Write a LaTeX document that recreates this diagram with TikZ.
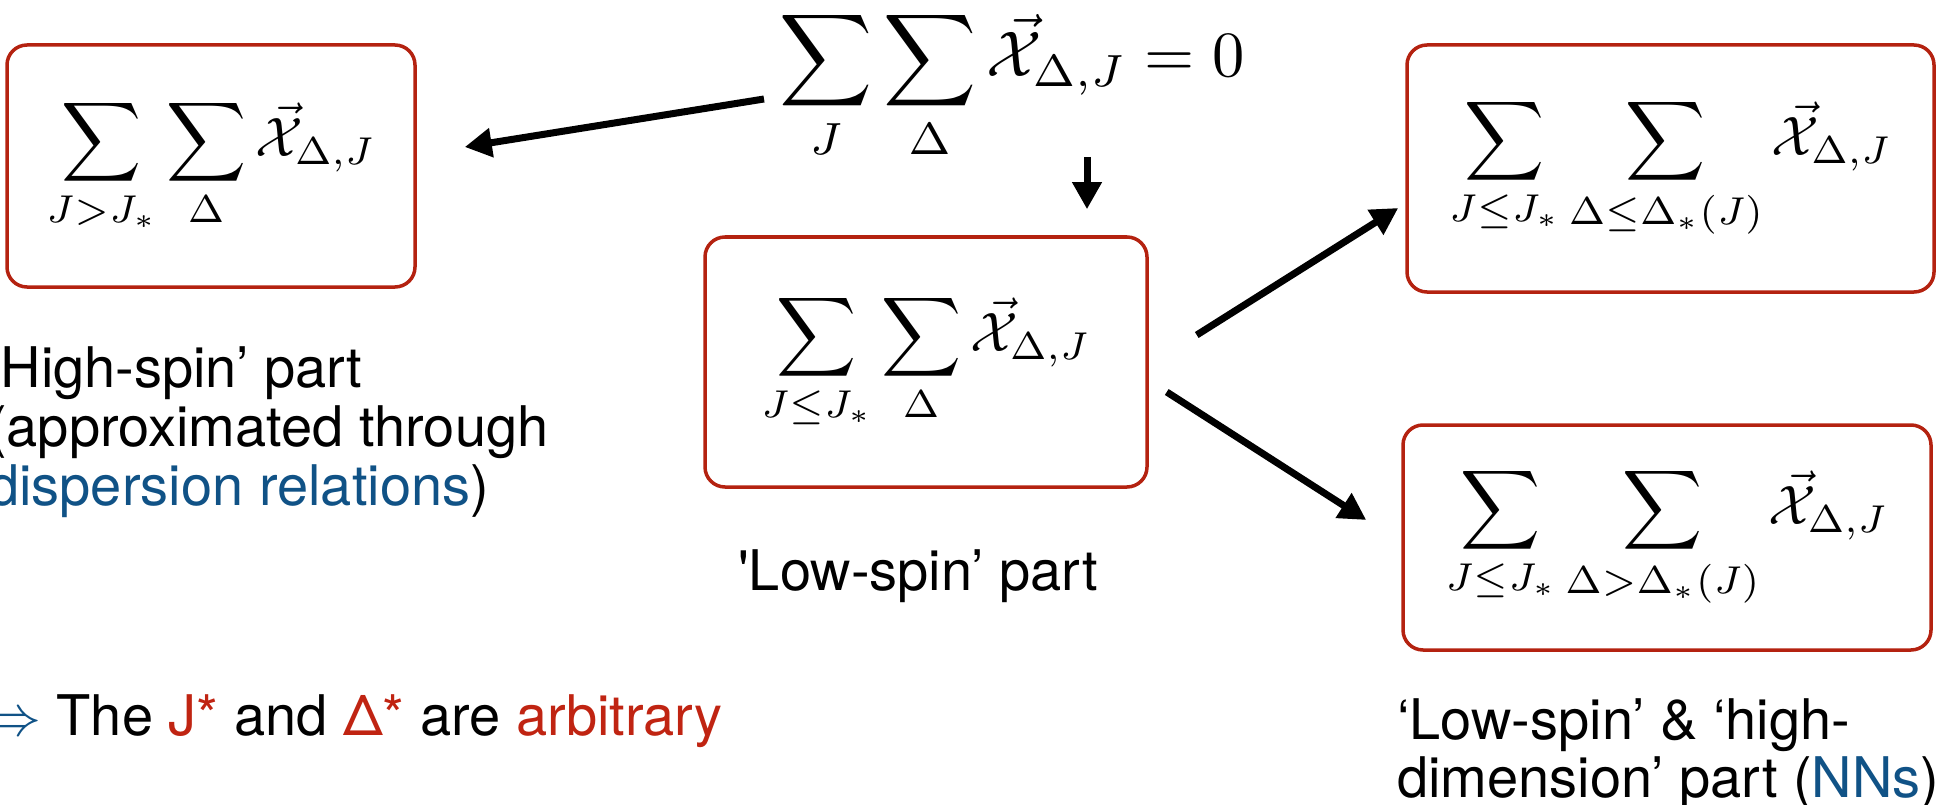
\documentclass[tikz,border=0pt]{standalone}
\usepackage[no-math]{fontspec}
\usepackage{graphicx}
\usetikzlibrary{arrows.meta}
\newfontfamily\helv{TeX Gyre Heros}
\definecolor{boxred}{RGB}{180,34,16}
\definecolor{txtred}{RGB}{192,36,18}
\definecolor{txtblue}{RGB}{16,82,134}
\newcommand{\mbx}[1]{\scalebox{5.55}{$\displaystyle #1$}}
\newcommand{\mtop}[1]{\scalebox{6.45}{$\displaystyle #1$}}
\newcommand{\implarrow}{\scalebox{5.8}{\fontsize{10}{12}\selectfont$\Rightarrow$}}
\begin{document}
\begin{tikzpicture}[x=1pt,y=-1pt,
  sumbox/.style={draw=boxred, line width=3.5pt, rounded corners=20pt, inner sep=0pt},
  arr/.style={line width=7pt, -{Triangle[length=27pt,width=28pt]}},
  lbl/.style={font=\helv\fontsize{56}{59}\selectfont, inner sep=0pt, anchor=base west},
]
\useasboundingbox (0,0) rectangle (1946,805);

\node[inner sep=0pt, anchor=base] (topeq) at (1012,77)
  {\mtop{\sum_{J}\sum_{\Delta}\vec{\mathcal{X}}_{\Delta,J}=0}};

\node[sumbox, minimum width=408pt, minimum height=242pt] (lbox) at (211,166)
  {\mbx{\sum_{J>J_*}\sum_{\Delta}\vec{\mathcal{X}}_{\Delta,J}}};
\node[sumbox, minimum width=442pt, minimum height=250pt] (cbox) at (926,362)
  {\mbx{\sum_{J\leq J_*}\sum_{\Delta}\vec{\mathcal{X}}_{\Delta,J}}};
\node[sumbox, minimum width=527pt, minimum height=247pt] (trbox) at (1670.5,168.5)
  {\mbx{\sum_{J\leq J_*}\sum_{\Delta\leq\Delta_*(J)}\vec{\mathcal{X}}_{\Delta,J}}};
\node[sumbox, minimum width=528pt, minimum height=225pt] (brbox) at (1667,537.5)
  {\mbx{\sum_{J\leq J_*}\sum_{\Delta>\Delta_*(J)}\vec{\mathcal{X}}_{\Delta,J}}};

\coordinate (eqL) at ([shift={(-248,22)}]topeq.base);
\coordinate (eqD) at ([shift={(75,80)}]topeq.base);
\draw[arr] (eqL) -- ([shift={(48,-19)}]lbox.east);
\draw[arr] (eqD) -- ([shift={(161,-26)}]cbox.north);
\draw[arr] ([shift={(48,-27)}]cbox.east) -- ([shift={(-7,39.5)}]trbox.west);
\draw[arr] ([shift={(18,30)}]cbox.east) -- ([shift={(-35,-17.5)}]brbox.west);

\node[lbl] (hs1) at (-12,387) {‘High-spin’ part};
\node[lbl] (hs2) at (-12,446) {(approximated through};
\node[lbl] (hs3) at (-12,505) {\textcolor{txtblue}{dispersion relations})};
\node[lbl] (ls) at (738,590) {\textquotesingle Low-spin’ part};
\node[lbl] (nn1) at (1397,739) {‘Low-spin’ \& ‘high-};
\node[lbl] (nn2) at (1397,797) {dimension’ part (\textcolor{txtblue}{NNs})};
\node[lbl] (arb) at (-17,735) {\textcolor{txtblue}{\implarrow} The \textcolor{txtred}{J*} and \textcolor{txtred}{Δ*} are \textcolor{txtred}{arbitrary}};
\end{tikzpicture}
\end{document}
